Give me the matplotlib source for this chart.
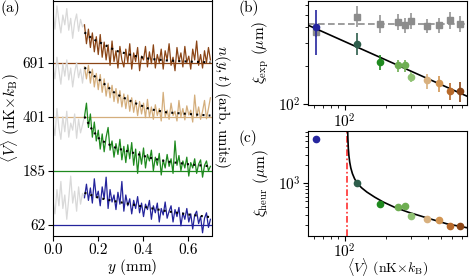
import numpy as np
import matplotlib
matplotlib.use("Agg")
import matplotlib.pyplot as plt
from matplotlib.ticker import NullFormatter

plt.rcParams['font.family'] = 'serif'
plt.rcParams['font.serif'] = ['cmr10', 'DejaVu Serif']
plt.rcParams['mathtext.fontset'] = 'cm'
plt.rcParams['axes.formatter.use_mathtext'] = True
plt.rcParams['font.size'] = 11

# ---------------- data ----------------
# panel (a): density profiles, offset by trace index
y_mm = np.linspace(0, 0.7, 81)
split = 16  # first sample of the coloured part (y = 0.14 mm)
trace_labels = ['62', '185', '401', '691']
trace_colors = ['#24249c', '#1f8a1f', '#d4ae7c', '#8b4516']

prof_blue = [0.45, 0.20, 0.65, 0.35, 0.80, 0.30, 0.55, 0.10, 0.48, 0.90, 0.40, 0.62, 0.25, 0.70, 0.38, 0.58, 0.50,
             0.75, 0.45, 0.68, 0.40, 0.85, 0.50, 0.62, 0.35, 0.70, 0.48, 0.88, 0.30, 0.65, 0.42, 0.55, 0.28,
             0.60, 0.38, 0.80, 0.25, 0.55, 0.35, 0.48, 0.20, 0.45, 0.30, 0.52, 0.22, 0.40, 0.15, 0.38, 0.28,
             0.45, 0.10, 0.35, 0.22, 0.40, 0.05, 0.30, 0.18, 0.42, 0.12, 0.25, 0.35, 0.05, 0.28, 0.15, 0.32,
             -0.02, 0.22, 0.10, 0.30, 0.05, 0.20, -0.08, 0.18, 0.25, 0.02, 0.15, -0.15, 0.12, 0.22, -0.05, 0.10]
prof_green = [0.90, 0.65, 1.15, 0.80, 0.58, 1.00, 0.72, 1.10, 0.62, 0.88, 0.75, 1.05, 0.60, 0.95, 0.70, 0.85, 1.00,
              1.25, 0.80, 1.05, 0.62, 0.90, 0.55, 0.75, 0.40, 0.68, 0.35, 0.62, 0.80, 0.38, 0.55, 0.25, 0.50,
              0.30, 0.58, 0.20, 0.45, 0.15, 0.48, 0.22, 0.52, 0.10, 0.40, -0.05, 0.35, 0.12, 0.42, 0.05, 0.30,
              0.18, 0.38, 0.00, 0.25, 0.10, 0.32, -0.08, 0.20, 0.05, 0.30, 0.08, 0.22, -0.05, 0.55, 0.10, 0.28,
              0.00, 0.18, 0.05, 0.25, -0.10, 0.15, 0.05, 0.22, -0.05, 0.12, 0.20, -0.12, 0.10, 0.18, 0.00, 0.08]
prof_tan = [0.95, 0.70, 1.10, 0.85, 0.60, 0.98, 0.75, 1.05, 0.68, 0.90, 0.55, 0.82, 1.00, 0.72, 0.88, 0.62, 0.92,
            0.70, 0.95, 0.62, 0.88, 0.55, 0.80, 0.50, 0.78, 0.45, 0.70, 0.38, 0.62, 0.35, 0.58, 0.28, 0.52,
            0.25, 0.48, 0.18, 0.42, 0.15, 0.40, 0.10, 0.35, 0.08, 0.30, 0.02, 0.28, 0.05, 0.25, -0.02, 0.32,
            0.00, 0.18, -0.05, 0.22, 0.02, 0.15, -0.08, 0.45, 0.00, 0.12, -0.05, 0.25, 0.02, 0.10, -0.08, 0.30,
            0.00, 0.15, -0.06, 0.20, 0.03, 0.12, -0.10, 0.40, 0.00, 0.18, -0.05, 0.10, 0.30, -0.04, 0.15, 0.35]
prof_brown = [0.95, 0.62, 1.05, 0.78, 0.55, 0.88, 0.70, 1.00, 0.60, 0.82, 0.45, 0.75, 0.90, 0.58, 0.80, 0.66, 0.70,
              0.35, 0.62, 0.28, 0.55, 0.20, 0.48, 0.15, 0.52, 0.10, 0.38, 0.05, 0.33, -0.05, 0.40, 0.02, 0.22,
              -0.10, 0.30, 0.05, -0.08, 0.25, 0.00, 0.35, -0.12, 0.18, 0.02, 0.28, -0.15, 0.12, 0.05, 0.30, -0.08,
              0.20, -0.02, 0.33, -0.10, 0.15, 0.00, 0.25, -0.12, 0.22, 0.05, 0.35, -0.05, 0.10, -0.15, 0.28, 0.02,
              0.18, -0.08, 0.30, 0.00, 0.12, -0.12, 0.25, 0.05, 0.40, -0.05, 0.15, -0.10, 0.22, 0.00, 0.28, 0.05]
profiles = [prof_blue, prof_green, prof_tan, prof_brown]

# exponential fits
fit_y = [0.14, 0.175, 0.21, 0.28, 0.357, 0.43, 0.505, 0.6, 0.70]
fit_blue = [0.59, 0.54, 0.49, 0.43, 0.37, 0.31, 0.25, 0.19, 0.14]
fit_green = [1.00, 0.75, 0.57, 0.42, 0.33, 0.24, 0.17, 0.12, 0.08]
fit_tan = [0.91, 0.78, 0.67, 0.42, 0.265, 0.14, 0.08, 0.05, 0.02]
fit_brown = [0.56, 0.44, 0.37, 0.22, 0.13, 0.07, 0.04, 0.02, 0.005]
fits = [fit_blue, fit_green, fit_tan, fit_brown]

# panels (b), (c): correlation length vs mean potential
V = [62, 123, 181, 242, 273, 302, 392, 483, 577, 681]
pt_colors = ['#25259e', '#2e5e4c', '#1f8a1f', '#6eae52', '#6eae52', '#90c274',
             '#d8b07e', '#d29552', '#b8692a', '#8b4516']
xi_exp = [400, 296, 215, 203, 203, 164, 155, 147, 128, 128]
xi_exp_lo = [157, 53, 30, 23, 23, 14, 22, 21, 20, 23]
xi_exp_hi = [152, 63, 28, 19, 19, 16, 19, 19, 18, 22]
xi_ref = [369, 483, 429, 442, 417, 450, 409, 417, 456, 429]
xi_ref_lo = [30, 80, 65, 60, 55, 60, 50, 55, 65, 60]
xi_ref_hi = [40, 110, 70, 70, 60, 70, 55, 60, 75, 65]
xi_ref_mean = 429
pow_V = [54.5, 765]
pow_xi = [417, 116]

xi_heur = [5350, 1010, 459, 403, 414, 285, 258, 242, 192, 192]
xi_heur_err = [500, 60, 25, 20, 20, 15, 15, 15, 14, 14]
V_c = 105
heur_V = [105.3, 105.8, 106.5, 107.5, 109, 111, 114, 118, 123, 133, 145, 165, 190, 230, 290, 390, 546, 765]
heur_xi = [7800, 5300, 3800, 2900, 2250, 1800, 1450, 1200, 1010, 840, 716, 590, 490, 400, 330, 268, 213, 183]

# ---------------- figure ----------------
fig = plt.figure(figsize=(4.69, 2.78), dpi=100)
W, H = 469, 278


def px_axes(l, t, r, b):
    return fig.add_axes([l / W, 1 - b / H, (r - l) / W, (b - t) / H])


ax_a = px_axes(53, 0.5, 212, 235.5)
ax_b = px_axes(308, 0.5, 467, 105)
ax_c = px_axes(308, 131, 467, 235.5)

# panel (a)
for k, (prof, fit, col) in enumerate(zip(profiles, fits, trace_colors)):
    prof = np.array(prof) + k
    ax_a.axhline(k, color=col, lw=0.9, zorder=1)
    ax_a.plot(y_mm[:split + 1], prof[:split + 1], color='#d9d9d9', lw=0.9, zorder=2)
    ax_a.plot(y_mm[split:], prof[split:], color=col, lw=0.9, zorder=3)
    ax_a.plot(fit_y, np.array(fit) + k, color='black', lw=1.5, ls=(0, (1, 2)), zorder=4)

ax_a.set_xlim(0, 0.707)
ax_a.set_ylim(-0.2, 4.15)
ax_a.set_xticks([0.0, 0.2, 0.4, 0.6])
ax_a.set_xticklabels(['0.0', '0.2', '0.4', '0.6'])
ax_a.set_yticks(range(4))
ax_a.set_yticklabels(trace_labels)
ax_a.set_xlabel(r'$y$ (mm)')
ax_a.xaxis.set_label_coords(0.5, -0.09)
ax_a.set_ylabel(r'$\langle V\rangle$ (nK$\times k_\mathrm{B}$)')
ax_a.yaxis.set_label_coords(-0.195, 0.5)
ax_a.text(1.065, 0.55, r'$n(y,t)$ (arb. units)', transform=ax_a.transAxes,
          rotation=270, ha='center', va='center')

# panel (b)
ax_b.axhline(xi_ref_mean, color='#8c8c8c', lw=1.2, ls=(0, (4, 2)), zorder=1)
ax_b.errorbar(V, xi_ref, yerr=[xi_ref_lo, xi_ref_hi], fmt='s',
              color='#8c8c8c', ms=4.5, elinewidth=1.1, capsize=0, zorder=2)
ax_b.plot(pow_V, pow_xi, color='black', lw=1.2, zorder=3)
for v, x, lo, hi, c in zip(V, xi_exp, xi_exp_lo, xi_exp_hi, pt_colors):
    ax_b.errorbar([v], [x], yerr=[[lo], [hi]], fmt='o', color=c, ms=4.5,
                  elinewidth=1.2, capsize=0, zorder=4)
ax_b.set_xscale('log')
ax_b.set_yscale('log')
ax_b.set_xlim(54.5, 765)
ax_b.set_ylim(99, 650)
ax_b.set_ylabel(r'$\xi_\mathrm{exp}$ ($\mu$m)')
ax_b.yaxis.set_label_coords(-0.235, 0.5)

# panel (c)
ax_c.axvline(V_c, color='#ff3030', lw=1.2, ls=(0, (4, 1.5, 1, 1.5)), zorder=1)
ax_c.plot(heur_V, heur_xi, color='black', lw=1.2, zorder=2)
for v, x, e, c in zip(V, xi_heur, xi_heur_err, pt_colors):
    ax_c.errorbar([v], [x], yerr=[e], fmt='o', color=c, ms=4.5,
                  elinewidth=1.0, capsize=0, zorder=4)
ax_c.set_xscale('log')
ax_c.set_yscale('log')
ax_c.set_xlim(54.5, 765)
ax_c.set_ylim(136, 7400)
ax_c.set_ylabel(r'$\xi_\mathrm{heur}$ ($\mu$m)')
ax_c.yaxis.set_label_coords(-0.235, 0.5)
ax_c.set_xlabel(r'$\langle V\rangle$ (nK$\times k_\mathrm{B}$)', fontsize=10)
ax_c.xaxis.set_label_coords(0.5, -0.2)

for ax in (ax_b, ax_c):
    ax.xaxis.set_minor_formatter(NullFormatter())
    ax.yaxis.set_minor_formatter(NullFormatter())

for ax in (ax_a, ax_b, ax_c):
    ax.tick_params(which='major', length=3.5, width=0.8, pad=2)
    ax.tick_params(which='minor', length=2, width=0.6)
ax_c.tick_params(axis='x', which='major', pad=1.5)

fig.text(1 / W, 1 - 8 / H, '(a)', ha='left', va='center')
fig.text(239 / W, 1 - 8 / H, '(b)', ha='left', va='center')
fig.text(239 / W, 1 - 138 / H, '(c)', ha='left', va='center')

fig.savefig('out.png', dpi=100)
